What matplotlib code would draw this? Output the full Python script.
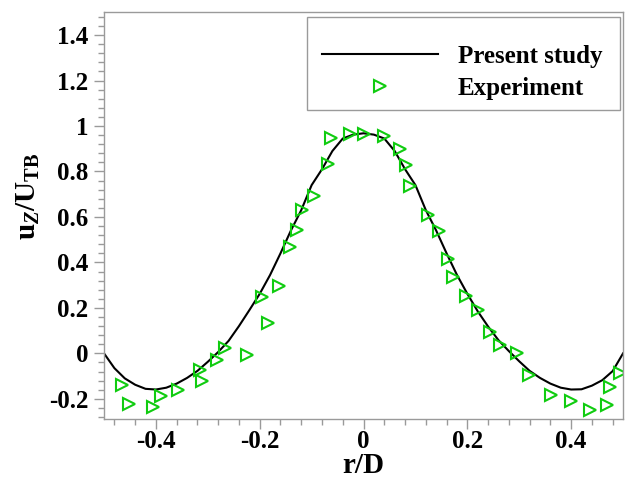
import matplotlib
matplotlib.use('Agg')
import matplotlib.pyplot as plt
from matplotlib.patches import Rectangle
from matplotlib.ticker import MultipleLocator, FuncFormatter

# simulation profile
r_sim = [-0.50, -0.48, -0.46, -0.44, -0.42, -0.40, -0.38, -0.36, -0.34, -0.32,
         -0.30, -0.28, -0.26, -0.24, -0.22, -0.20, -0.18, -0.16, -0.14, -0.12,
         -0.10, -0.08, -0.06, -0.04, -0.02, 0.00, 0.02, 0.04, 0.06, 0.08,
         0.10, 0.12, 0.14, 0.16, 0.18, 0.20, 0.22, 0.24, 0.26, 0.28,
         0.30, 0.32, 0.34, 0.36, 0.38, 0.40, 0.42, 0.44, 0.46, 0.48, 0.50]
u_sim = [0.000, -0.065, -0.110, -0.138, -0.156, -0.159, -0.151, -0.133, -0.108, -0.077,
         -0.037, 0.006, 0.055, 0.120, 0.190, 0.262, 0.345, 0.440, 0.540, 0.630,
         0.740, 0.810, 0.890, 0.945, 0.962, 0.968, 0.962, 0.945, 0.890, 0.810,
         0.740, 0.630, 0.540, 0.440, 0.345, 0.262, 0.185, 0.118, 0.058, 0.010,
         -0.035, -0.077, -0.108, -0.133, -0.151, -0.159, -0.158, -0.142, -0.118, -0.078, 0.000]

# experiment points
r_exp = [-0.465, -0.452, -0.405, -0.391, -0.357, -0.316, -0.311, -0.282, -0.266, -0.224,
         -0.195, -0.184, -0.163, -0.142, -0.129, -0.119, -0.096, -0.069, -0.063, -0.027,
         0.000, 0.039, 0.071, 0.081, 0.090, 0.124, 0.146, 0.162, 0.172, 0.197,
         0.221, 0.243, 0.263, 0.295, 0.319, 0.361, 0.400, 0.436, 0.469, 0.475, 0.494]
u_exp = [-0.140, -0.221, -0.235, -0.187, -0.161, -0.074, -0.120, -0.029, 0.022, -0.006,
         0.247, 0.133, 0.297, 0.467, 0.541, 0.629, 0.693, 0.832, 0.949, 0.965,
         0.965, 0.956, 0.899, 0.828, 0.737, 0.610, 0.537, 0.413, 0.335, 0.254,
         0.190, 0.096, 0.035, 0.002, -0.093, -0.181, -0.210, -0.250, -0.228, -0.149, -0.085]

plt.rcParams['font.family'] = ['Liberation Serif', 'DejaVu Serif']
plt.rcParams['font.weight'] = 'bold'
plt.rcParams['axes.unicode_minus'] = False
plt.rcParams['mathtext.fontset'] = 'custom'
plt.rcParams['mathtext.rm'] = 'Liberation Serif:bold'
plt.rcParams['mathtext.bf'] = 'Liberation Serif:bold'
plt.rcParams['mathtext.it'] = 'Liberation Serif:bold:italic'

fig = plt.figure(figsize=(6.27, 4.93), dpi=100)
ax = fig.add_axes([0.1659, 0.1495, 0.8278, 0.8255])

ax.plot(r_sim, u_sim, color='black', lw=1.5, label='Present study')
ax.plot(r_exp, u_exp, ls='none', marker='>', ms=8, mfc='none', mec='#10cc10',
        mew=1.5, label='Experiment')

ax.set_xlim(-0.5, 0.5)
ax.set_ylim(-0.29, 1.5)

ax.xaxis.set_major_locator(MultipleLocator(0.2))
ax.xaxis.set_minor_locator(MultipleLocator(0.04))
ax.yaxis.set_major_locator(MultipleLocator(0.2))
ax.yaxis.set_minor_locator(MultipleLocator(0.04))

fmt = FuncFormatter(lambda v, p: '0' if abs(v) < 1e-9 else ('%g' % round(v, 2)))
ax.xaxis.set_major_formatter(fmt)
ax.yaxis.set_major_formatter(fmt)

grey = '#9a9a9a'
for s in ax.spines.values():
    s.set_color(grey)
    s.set_linewidth(1.0)
ax.tick_params(which='both', direction='out', color=grey, width=1.0,
               top=False, right=False, labelsize=18)
ax.tick_params(which='major', length=7)
ax.tick_params(which='minor', length=4)
ax.tick_params(axis='x', which='major', pad=1)
ax.tick_params(axis='y', which='major', pad=4)
for lab in ax.get_xticklabels() + ax.get_yticklabels():
    lab.set_fontweight('bold')

ax.set_xlabel('r/D', fontsize=21, fontweight='bold', labelpad=-1)
ax.set_ylabel(r'$\mathbf{u}_{\mathit{Z}}\mathbf{/U}_{\mathbf{TB}}$', fontsize=21)
ax.yaxis.set_label_coords(-0.12, 0.547)

# legend box drawn separately (tecplot style, text sits low in the box)
ax.add_patch(Rectangle((0.391, 0.760), 0.603, 0.2285, transform=ax.transAxes,
                       fill=True, facecolor='white', edgecolor=grey, lw=1.0, zorder=4))
leg = ax.legend(loc='upper left', bbox_to_anchor=(0.420, 0.92), fontsize=18,
                frameon=False, handlelength=4.64, handletextpad=0.8,
                borderpad=0, labelspacing=0.35, borderaxespad=0)
leg.set_zorder(5)
for t in leg.get_texts():
    t.set_fontweight('bold')

fig.savefig('out.png', dpi=100)
